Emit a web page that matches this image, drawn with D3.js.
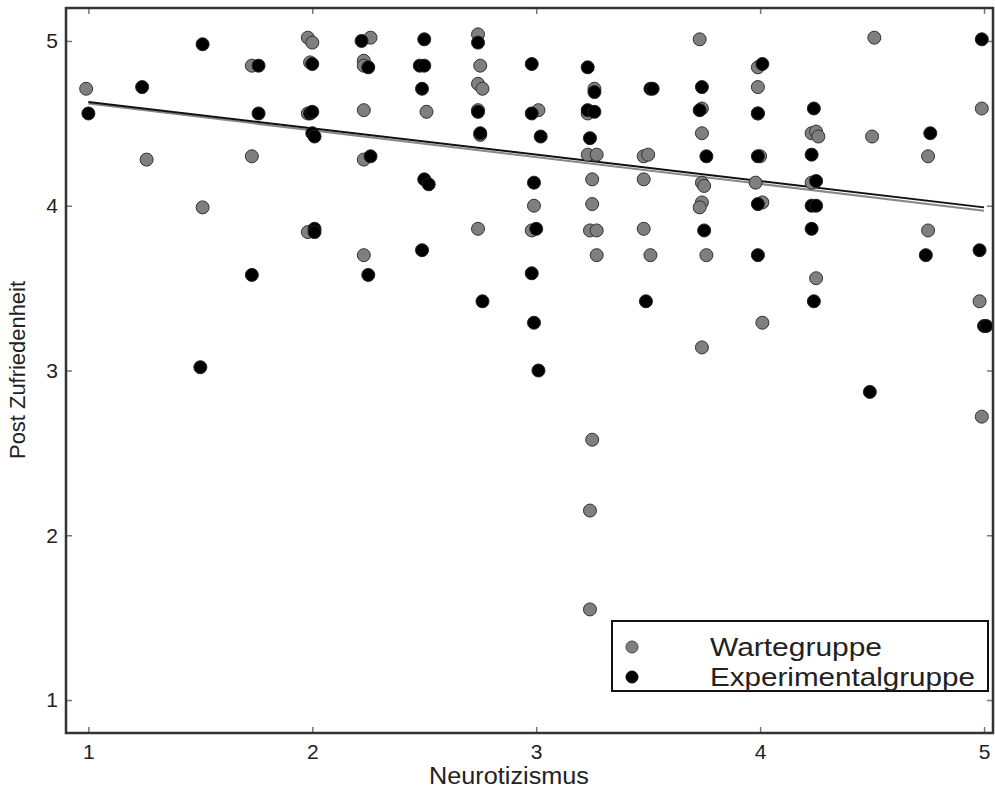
<!DOCTYPE html>
<html>
<head>
<meta charset="utf-8">
<script src="https://cdn.jsdelivr.net/npm/d3@7"></script>
<style>
  html, body { margin: 0; padding: 0; background: #fff; }
  svg { display: block; }
  text { font-family: "Liberation Sans", Arial, sans-serif; fill: #222; }
</style>
</head>
<body>
<svg id="chart" width="995" height="798"></svg>
<script>
// ---- data ----
const xTicks = [1, 2, 3, 4, 5];
const yTicks = [1, 2, 3, 4, 5];
const seriesNames = ["Wartegruppe", "Experimentalgruppe"];

const warteX = [0.99,1.26,1.51,1.73,1.73,1.98,2.00,1.99,1.98,1.98,2.26,2.23,2.23,2.23,2.23,2.23,2.51,2.74,2.75,2.74,2.76,2.74,2.75,2.74,3.01,2.99,2.98,3.26,3.23,3.23,3.27,3.25,3.25,3.24,3.27,3.27,3.25,3.24,3.24,3.48,3.50,3.48,3.48,3.51,3.73,3.74,3.74,3.74,3.75,3.74,3.73,3.76,3.74,3.99,3.99,3.99,4.00,3.98,4.01,4.01,4.23,4.25,4.26,4.23,4.25,4.51,4.50,4.75,4.75,4.99,4.98,4.99];
const warteY = [4.71,4.28,3.99,4.85,4.30,5.02,4.99,4.87,4.56,3.84,5.02,4.88,4.85,4.58,4.28,3.70,4.57,5.04,4.85,4.74,4.71,4.58,4.43,3.86,4.58,4.00,3.85,4.71,4.56,4.31,4.31,4.16,4.01,3.85,3.85,3.70,2.58,2.15,1.55,4.30,4.31,4.16,3.86,3.70,5.01,4.59,4.44,4.14,4.12,4.02,3.99,3.70,3.14,4.84,4.72,4.56,4.30,4.14,4.02,3.29,4.44,4.45,4.42,4.14,3.56,5.02,4.42,4.30,3.85,4.59,3.42,2.72];

const expX = [1.00,1.24,1.51,1.50,1.76,1.76,1.73,2.00,1.99,2.00,2.00,2.01,2.01,2.01,2.22,2.25,2.26,2.25,2.50,2.48,2.50,2.49,2.50,2.52,2.49,2.74,2.74,2.75,2.76,2.98,2.98,3.02,2.99,3.00,2.98,2.99,3.01,3.23,3.26,3.23,3.26,3.24,3.51,3.52,3.49,3.74,3.73,3.76,3.75,4.01,3.99,3.99,3.99,3.99,4.24,4.23,4.25,4.23,4.25,4.23,4.24,4.49,4.76,4.74,4.99,4.98,5.00,5.01];
const expY = [4.56,4.72,4.98,3.02,4.85,4.56,3.58,4.86,4.56,4.57,4.44,4.42,3.86,3.84,5.00,4.84,4.30,3.58,5.01,4.85,4.85,4.71,4.16,4.13,3.73,4.99,4.57,4.44,3.42,4.86,4.56,4.42,4.14,3.86,3.59,3.29,3.00,4.84,4.69,4.58,4.57,4.41,4.71,4.71,3.42,4.72,4.58,4.30,3.85,4.86,4.56,4.30,4.01,3.70,4.59,4.31,4.15,4.00,4.00,3.86,3.42,2.87,4.44,3.70,5.01,3.73,3.27,3.27];

// regression lines (endpoints)
const fitX = [1, 5];
const fitWarteY = [4.62, 3.97];
const fitExpY = [4.63, 3.99];

// ---- layout ----
const svg = d3.select("#chart");
const L = 66, R = 993, T = 8, B = 733;
const x = d3.scaleLinear().domain([0.9, 5.04]).range([L, R]);
const y = d3.scaleLinear().domain([0.8, 5.2]).range([B, T]);

const frameColor = "#333";
const tickColor = "#777";

// axes (inward ticks)
const xAxis = d3.axisBottom(x).tickValues(xTicks).tickFormat(d3.format("d")).tickSizeInner(-6).tickSizeOuter(0).tickPadding(11);
const yAxis = d3.axisLeft(y).tickValues(yTicks).tickFormat(d3.format("d")).tickSizeInner(-6).tickSizeOuter(0).tickPadding(8);
const xTop = d3.axisTop(x).tickValues(xTicks).tickFormat("").tickSizeInner(-6).tickSizeOuter(0);
const yRight = d3.axisRight(y).tickValues(yTicks).tickFormat("").tickSizeInner(-6).tickSizeOuter(0);

function styleAxis(g) {
  g.select(".domain").remove();
  g.selectAll(".tick line").attr("stroke", tickColor).attr("stroke-width", 1.5);
  g.selectAll(".tick text").attr("font-size", 21).attr("font-family", "Liberation Sans, Arial, sans-serif").attr("fill", "#222");
}
svg.append("g").attr("transform", `translate(0,${B})`).call(xAxis).call(styleAxis);
svg.append("g").attr("transform", `translate(${L},0)`).call(yAxis).call(styleAxis);
svg.append("g").attr("transform", `translate(0,${T})`).call(xTop).call(styleAxis);
svg.append("g").attr("transform", `translate(${R},0)`).call(yRight).call(styleAxis);

// regression lines
const line = d3.line().x(d => x(d[0])).y(d => y(d[1]));
svg.append("path").datum(fitX.map((v, i) => [v, fitWarteY[i]]))
  .attr("d", line).attr("fill", "none").attr("stroke", "#888").attr("stroke-width", 2);
svg.append("path").datum(fitX.map((v, i) => [v, fitExpY[i]]))
  .attr("d", line).attr("fill", "none").attr("stroke", "#111").attr("stroke-width", 2);

// points
const warte = warteX.map((v, i) => ({x: v, y: warteY[i]}));
const exp = expX.map((v, i) => ({x: v, y: expY[i]}));
const r = 6.5;
svg.append("g").selectAll("circle").data(warte).join("circle")
  .attr("cx", d => x(d.x)).attr("cy", d => y(d.y)).attr("r", r)
  .attr("fill", "#7f7f7f").attr("stroke", "#333").attr("stroke-width", 1);
svg.append("g").selectAll("circle").data(exp).join("circle")
  .attr("cx", d => x(d.x)).attr("cy", d => y(d.y)).attr("r", r)
  .attr("fill", "#000").attr("stroke", "#222").attr("stroke-width", 1);

// frame
svg.append("rect").attr("x", L).attr("y", T).attr("width", R - L).attr("height", B - T)
  .attr("fill", "none").attr("stroke", frameColor).attr("stroke-width", 2.5);

// axis labels
svg.append("text").attr("x", 509).attr("y", 784).attr("text-anchor", "middle")
  .attr("font-size", 23).attr("textLength", 160).attr("lengthAdjust", "spacingAndGlyphs").text("Neurotizismus");
svg.append("text").attr("transform", `translate(25,${370}) rotate(-90)`).attr("text-anchor", "middle")
  .attr("font-size", 22).attr("textLength", 178).attr("lengthAdjust", "spacingAndGlyphs").text("Post Zufriedenheit");

// legend
const lg = svg.append("g");
lg.append("rect").attr("x", 612).attr("y", 621).attr("width", 376).attr("height", 70)
  .attr("fill", "#fff").attr("stroke", "#111").attr("stroke-width", 2);
const legendRows = [
  {name: seriesNames[0], fill: "#7f7f7f", stroke: "#444", cy: 647, w: 172},
  {name: seriesNames[1], fill: "#000", stroke: "#000", cy: 677, w: 265}
];
legendRows.forEach(d => {
  lg.append("circle").attr("cx", 632).attr("cy", d.cy).attr("r", 6)
    .attr("fill", d.fill).attr("stroke", d.stroke).attr("stroke-width", 1);
  lg.append("text").attr("x", 710).attr("y", d.cy + 9).attr("font-size", 25)
    .attr("textLength", d.w).attr("lengthAdjust", "spacingAndGlyphs").text(d.name);
});
</script>
</body>
</html>
